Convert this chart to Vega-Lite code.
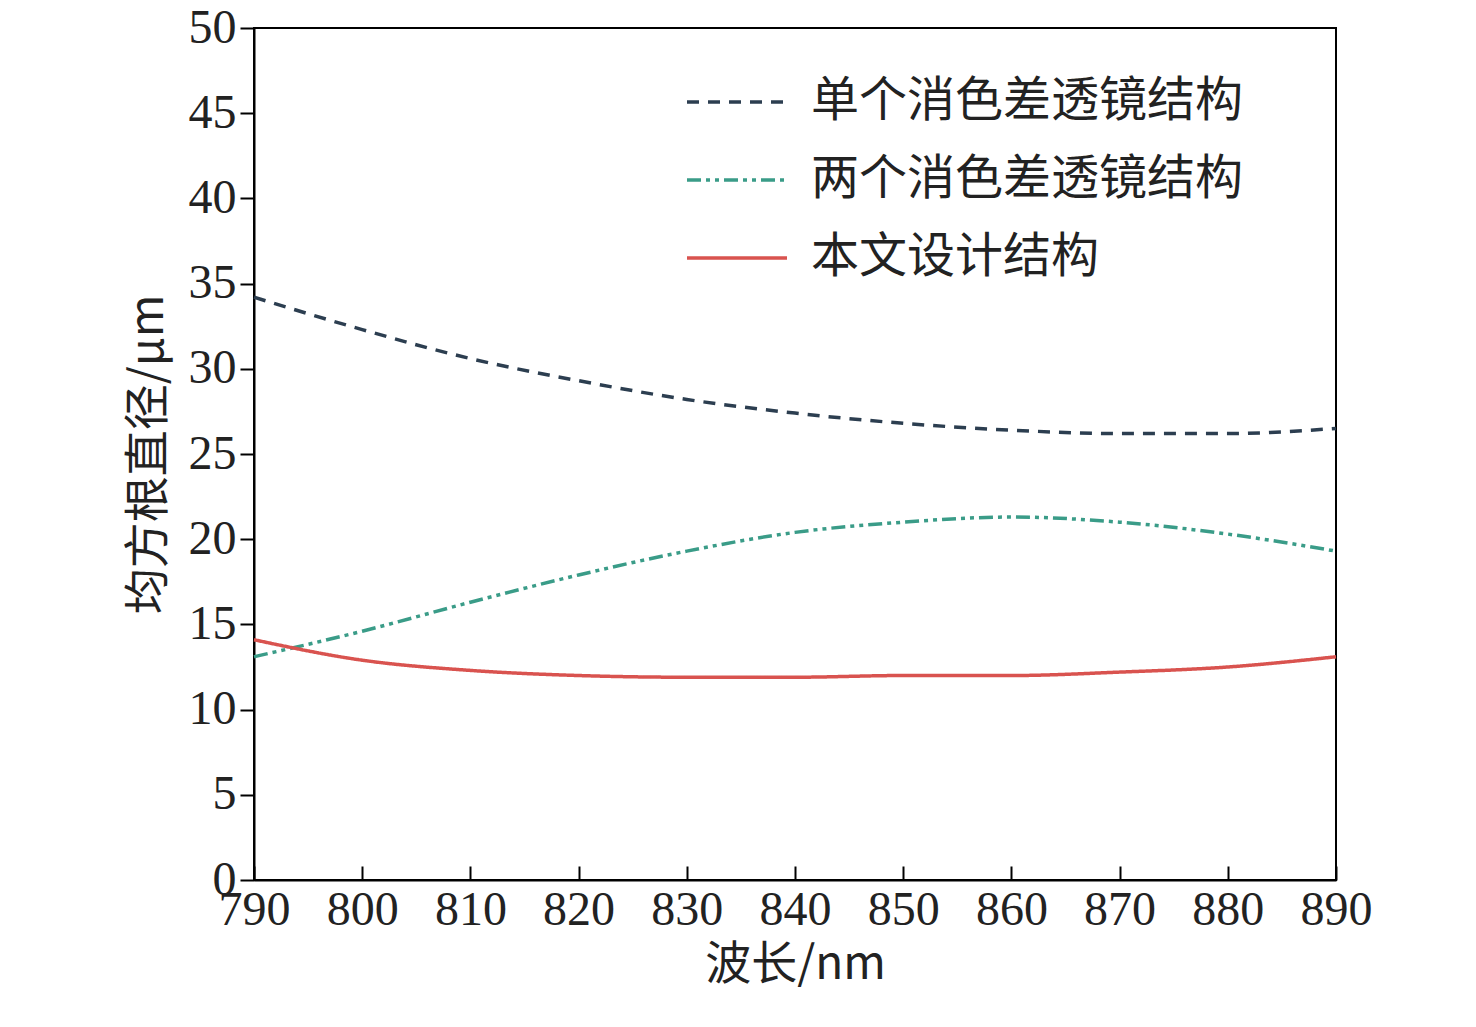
{
  "$schema": "https://vega.github.io/schema/vega-lite/v6.json",
  "width": 1082,
  "height": 852,
  "autosize": "none",
  "padding": {"left": 254, "top": 28, "right": 140, "bottom": 147},
  "background": "white",
  "config": {
    "view": {"stroke": "black", "strokeWidth": 2},
    "axis": {"grid": false, "domainColor": "black", "domainWidth": 2, "tickColor": "black", "tickWidth": 2,
      "labelFont": "Liberation Serif", "labelFontSize": 48, "labelColor": "#222", "labelFlush": false, "titleFont": "Noto Sans CJK SC", "titleFontSize": 46, "titleFontWeight": "normal", "titleColor": "#222"}
  },
  "data": {"values": [
    {"w": 790, "v": 34.2, "s": "单个消色差透镜结构"},
    {"w": 800, "v": 32.3, "s": "单个消色差透镜结构"},
    {"w": 810, "v": 30.6, "s": "单个消色差透镜结构"},
    {"w": 820, "v": 29.3, "s": "单个消色差透镜结构"},
    {"w": 830, "v": 28.2, "s": "单个消色差透镜结构"},
    {"w": 840, "v": 27.4, "s": "单个消色差透镜结构"},
    {"w": 850, "v": 26.8, "s": "单个消色差透镜结构"},
    {"w": 860, "v": 26.4, "s": "单个消色差透镜结构"},
    {"w": 870, "v": 26.2, "s": "单个消色差透镜结构"},
    {"w": 880, "v": 26.2, "s": "单个消色差透镜结构"},
    {"w": 890, "v": 26.5, "s": "单个消色差透镜结构"},
    {"w": 790, "v": 13.1, "s": "两个消色差透镜结构"},
    {"w": 800, "v": 14.6, "s": "两个消色差透镜结构"},
    {"w": 810, "v": 16.3, "s": "两个消色差透镜结构"},
    {"w": 820, "v": 17.9, "s": "两个消色差透镜结构"},
    {"w": 830, "v": 19.3, "s": "两个消色差透镜结构"},
    {"w": 840, "v": 20.4, "s": "两个消色差透镜结构"},
    {"w": 850, "v": 21.0, "s": "两个消色差透镜结构"},
    {"w": 860, "v": 21.3, "s": "两个消色差透镜结构"},
    {"w": 870, "v": 21.0, "s": "两个消色差透镜结构"},
    {"w": 880, "v": 20.3, "s": "两个消色差透镜结构"},
    {"w": 890, "v": 19.3, "s": "两个消色差透镜结构"},
    {"w": 790, "v": 14.1, "s": "本文设计结构"},
    {"w": 800, "v": 12.9, "s": "本文设计结构"},
    {"w": 810, "v": 12.3, "s": "本文设计结构"},
    {"w": 820, "v": 12.0, "s": "本文设计结构"},
    {"w": 830, "v": 11.9, "s": "本文设计结构"},
    {"w": 840, "v": 11.9, "s": "本文设计结构"},
    {"w": 850, "v": 12.0, "s": "本文设计结构"},
    {"w": 860, "v": 12.0, "s": "本文设计结构"},
    {"w": 870, "v": 12.2, "s": "本文设计结构"},
    {"w": 880, "v": 12.5, "s": "本文设计结构"},
    {"w": 890, "v": 13.1, "s": "本文设计结构"}
  ]},
  "mark": {"type": "line", "interpolate": "monotone", "strokeWidth": 3.5},
  "encoding": {
    "x": {"field": "w", "type": "quantitative", "title": "波长/nm", "scale": {"domain": [790, 890], "nice": false},
      "axis": {"values": [790, 800, 810, 820, 830, 840, 850, 860, 870, 880, 890], "tickSize": -14, "labelPadding": 20, "titlePadding": 8}},
    "y": {"field": "v", "type": "quantitative", "title": "均方根直径/μm", "scale": {"domain": [0, 50], "nice": false},
      "axis": {"values": [0, 5, 10, 15, 20, 25, 30, 35, 40, 45, 50], "tickSize": 14, "labelPadding": 4, "titlePadding": 16}},
    "color": {"field": "s", "type": "nominal", "title": null,
      "scale": {"domain": ["单个消色差透镜结构", "两个消色差透镜结构", "本文设计结构"], "range": ["#2c3e50", "#3a9c88", "#d9534f"]},
      "legend": {"orient": "none", "legendX": 431, "legendY": 22, "symbolType": "stroke", "symbolSize": 10000, "symbolStrokeWidth": 3.5,
        "labelFont": "Noto Sans CJK SC", "labelFontSize": 48, "labelColor": "#222", "labelLimit": 0, "rowPadding": 2, "labelOffset": 22}},
    "strokeDash": {"field": "s", "type": "nominal", "legend": null,
      "scale": {"domain": ["单个消色差透镜结构", "两个消色差透镜结构", "本文设计结构"], "range": [[12, 9], [14, 5, 4, 5, 4, 5], [1, 0]]}}
  }
}
